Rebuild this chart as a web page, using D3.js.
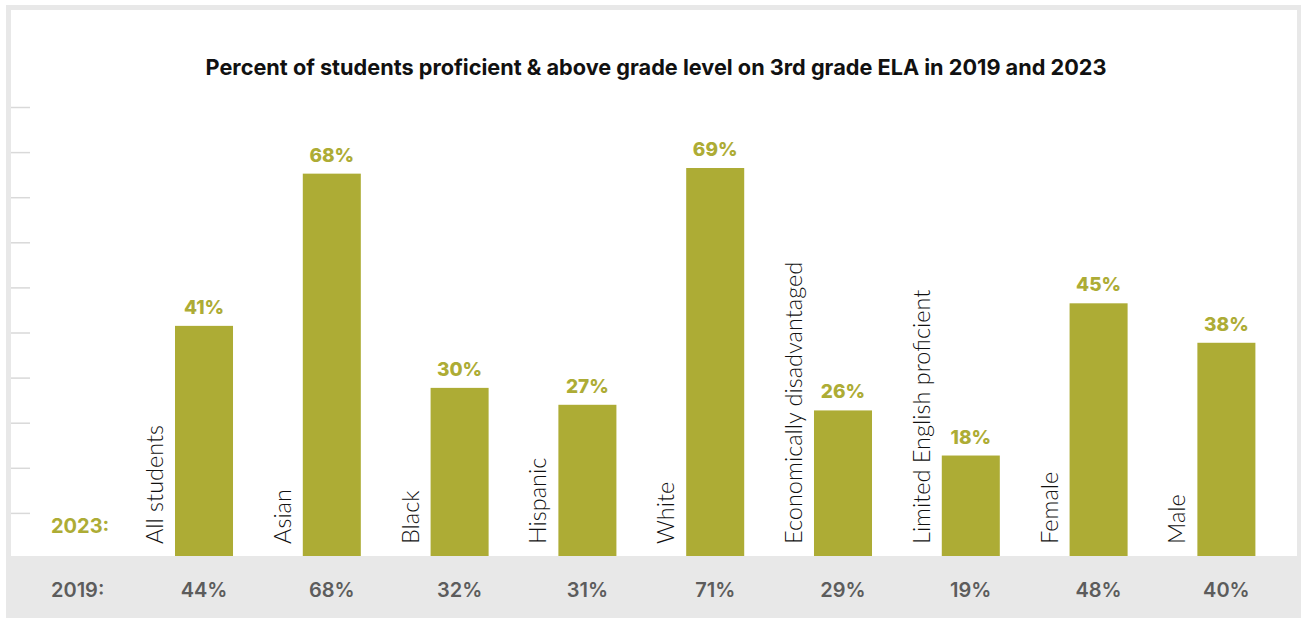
<!DOCTYPE html>
<html>
<head>
<meta charset="utf-8">
<script src="https://cdn.jsdelivr.net/npm/d3@7"></script>
<style>
  body { margin: 0; background: #fff; }
  svg { display: block; }
</style>
</head>
<body>
<script>
// data
const groups = ["All students", "Asian", "Black", "Hispanic", "White",
  "Economically disadvantaged", "Limited English proficient", "Female", "Male"];
const values2023 = [41, 68, 30, 27, 69, 26, 18, 45, 38];
const values2019 = [44, 68, 32, 31, 71, 29, 19, 48, 40];
const tickValues = [8, 16, 24, 32, 40, 48, 56, 64, 72, 80];

const olive = "#adac35";

function drawChart() {
  let W = 1301, H = 618;
  let svg = d3.select("body").append("svg")
    .attr("width", W)
    .attr("height", H);

  // grey frame + white inside
  svg.append("rect").attr("x", 6).attr("y", 5).attr("width", W - 6).attr("height", H - 5).attr("fill", "#e8e8e8");
  svg.append("rect").attr("x", 11).attr("y", 10).attr("width", 1286).attr("height", 560).attr("fill", "#fff");

  let x = d3.scaleBand().domain(groups).range([175, 1255.4]).paddingInner(0.546).paddingOuter(0);
  let y = d3.scaleLinear().domain([0, 80]).range([557, 106]);

  // little ticks on the left edge
  svg.append("g").selectAll("line")
    .data(tickValues)
    .enter().append("line")
    .attr("x1", 11).attr("x2", 30)
    .attr("y1", d => y(d) + 1.5).attr("y2", d => y(d) + 1.5)
    .attr("stroke", "#d9d9d9").attr("stroke-width", 1.5);

  svg.append("text")
    .attr("x", 656).attr("y", 75)
    .attr("text-anchor", "middle")
    .style("font-family", "Inter, 'Noto Sans', sans-serif")
    .style("font-weight", 700)
    .style("font-size", "21.7px")
    .attr("fill", "#111")
    .text("Percent of students proficient & above grade level on 3rd grade ELA in 2019 and 2023");

  svg.selectAll(".bar")
    .data(groups)
    .enter().append("rect")
    .attr("class", "bar")
    .attr("x", d => x(d))
    .attr("width", x.bandwidth())
    .attr("y", (d, i) => y(values2023[i]))
    .attr("height", (d, i) => y(0) - y(values2023[i]))
    .attr("fill", olive);

  svg.selectAll(".val")
    .data(groups)
    .enter().append("text")
    .attr("class", "val")
    .attr("x", d => x(d) + x.bandwidth() / 2)
    .attr("y", (d, i) => y(values2023[i]) - 12)
    .attr("text-anchor", "middle")
    .style("font-family", "Inter, sans-serif")
    .style("font-weight", 800)
    .style("font-size", "19px")
    .attr("fill", olive)
    .text((d, i) => values2023[i] + "%");

  // rotated group names to the left of each bar
  svg.selectAll(".grp")
    .data(groups)
    .enter().append("text")
    .attr("class", "grp")
    .attr("transform", d => "translate(" + (x(d) - 12) + ",544) rotate(-90)")
    .style("font-family", "Lato, sans-serif")
    .style("font-weight", 300)
    .style("font-size", "23.5px")
    .attr("fill", "#111")
    .text(d => d);

  // bottom band with 2019 values
  svg.append("rect").attr("x", 6).attr("y", 556).attr("width", W - 6).attr("height", H - 556).attr("fill", "#e8e8e8");

  svg.append("text")
    .attr("x", 51).attr("y", 533)
    .style("font-family", "Inter, sans-serif")
    .style("font-weight", 700)
    .style("font-size", "20px")
    .attr("fill", olive)
    .text("2023:");

  svg.append("text")
    .attr("x", 51).attr("y", 597)
    .style("font-family", "Inter, sans-serif")
    .style("font-weight", 600)
    .style("font-size", "20px")
    .attr("fill", "#5c5c5c")
    .text("2019:");

  svg.selectAll(".old")
    .data(groups)
    .enter().append("text")
    .attr("class", "old")
    .attr("x", d => x(d) + x.bandwidth() / 2)
    .attr("y", 597)
    .attr("text-anchor", "middle")
    .style("font-family", "Inter, sans-serif")
    .style("font-weight", 600)
    .style("font-size", "20px")
    .attr("fill", "#5c5c5c")
    .text((d, i) => values2019[i] + "%");
}

document.addEventListener("DOMContentLoaded", drawChart);
</script>
</body>
</html>
